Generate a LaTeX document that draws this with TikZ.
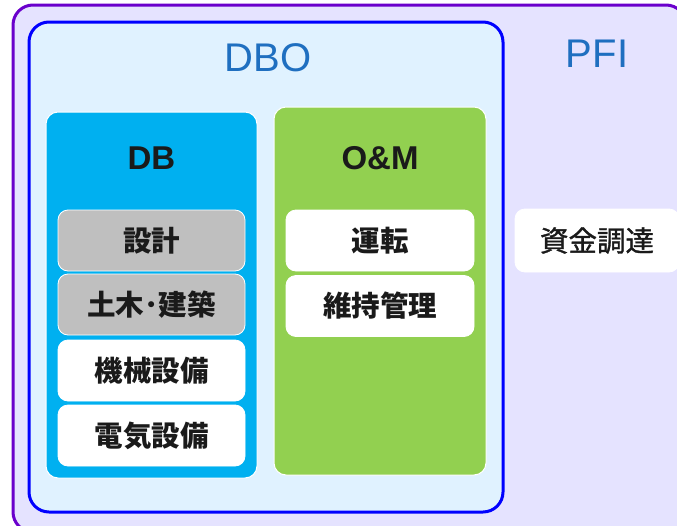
\documentclass[tikz,border=0pt]{standalone}
\usepackage{fontspec}
\setmainfont{Liberation Sans}
\newfontfamily\cjk{Noto Sans CJK JP}
\newfontfamily\cjkm{Noto Sans CJK JP}[FakeBold=1.2]
\definecolor{outerfill}{HTML}{E5E3FF}
\definecolor{outerline}{HTML}{6A00CC}
\definecolor{dbofill}{HTML}{E0F2FF}
\definecolor{dboline}{HTML}{0000FF}
\definecolor{dbfill}{HTML}{00B0F0}
\definecolor{omfill}{HTML}{92D050}
\definecolor{grayfill}{HTML}{BFBFBF}
\definecolor{titleblue}{HTML}{1F6FC0}
\definecolor{txt}{HTML}{1A1A1A}
\tikzset{
  outerbox/.style={draw=outerline, fill=outerfill, line width=3pt, rounded corners=20pt},
  dbobox/.style={draw=dboline, fill=dbofill, line width=3pt, rounded corners=20pt},
  groupbox/.style={draw=white, line width=1pt, rounded corners=12pt, inner sep=0pt},
  itembox/.style={draw=white, line width=0.8pt, rounded corners=10pt, inner sep=0pt,
     minimum height=61pt, font=\cjk\bfseries\fontsize{28.5}{32}\selectfont, text=txt},
  bigtitle/.style={font=\fontsize{40}{44}\selectfont, text=titleblue},
  grouptitle/.style={font=\bfseries\fontsize{33}{36}\selectfont, text=txt},
}
\begin{document}
\begin{tikzpicture}[x=1pt,y=-1pt]
\useasboundingbox (0,0) rectangle (677,525);
\begin{scope}
\clip (0,0) rectangle (677,525);
\draw[outerbox] (13,5) rectangle (686,532);
\draw[dbobox] (29,22) rectangle (503,512);
\node[groupbox, fill=dbfill, minimum width=211pt, minimum height=366pt] (db) at (151.5,295) {};
\node[groupbox, fill=omfill, minimum width=212pt, minimum height=368pt] (om) at (380,291) {};
\node[bigtitle] (dbo) at (268,58) {DBO};
\node[bigtitle] (pfi) at (597,54) {PFI};
\node[grouptitle] (dbt) at (151.5,158) {DB};
\node[grouptitle] (omt) at (380,158) {O\&M};
\node[itembox, fill=grayfill, minimum width=187pt] (sekkei) at (151.5,240.5) {設計};
\node[itembox, fill=grayfill, minimum width=187pt] (doboku) at (151.5,304.5) {土木･建築};
\node[itembox, fill=white, minimum width=187pt] (kikai) at (151.5,370.5) {機械設備};
\node[itembox, fill=white, minimum width=187pt] (denki) at (151.5,435.5) {電気設備};
\node[itembox, fill=white, minimum width=188pt] (unten) at (380,240.5) {運転};
\node[itembox, fill=white, minimum width=188pt] (iji) at (380,306) {維持管理};
\node[itembox, fill=white, minimum width=164pt, minimum height=63pt, font=\cjkm\fontsize{28.5}{32}\selectfont] (shikin) at (597,240.5) {資金調達};
\end{scope}
\end{tikzpicture}
\end{document}
